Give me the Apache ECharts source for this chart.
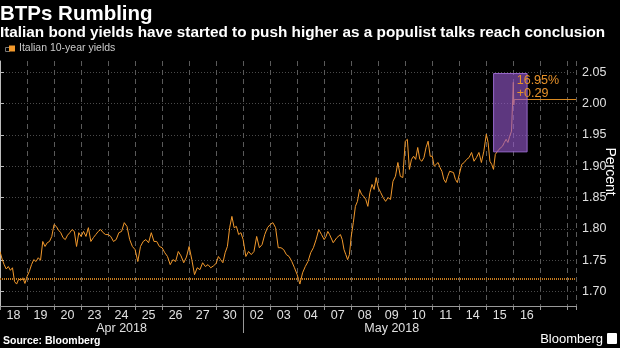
<!DOCTYPE html>
<html>
<head>
<meta charset="utf-8">
<script src="https://cdn.jsdelivr.net/npm/echarts@6/dist/echarts.min.js"></script>
<style>
  html, body { margin: 0; padding: 0; background: #000; }
  #chart { width: 620px; height: 348px; }
</style>
</head>
<body>
<div id="chart"></div>
<script>
// Trading sessions shown on the x axis (one slot per session)
const dayLabels = ['18', '19', '20', '23', '24', '25', '26', '27', '30', '02', '03', '04', '07', '08', '09', '10', '11', '14', '15', '16'];
const monthLabels = ['Apr 2018', 'May 2018'];
const monthFirstSession = [0, 9];

// Italian 10-year yield, intraday readings per session (percent)
const apr18 = [1.764, 1.752, 1.743, 1.736, 1.740, 1.734, 1.738, 1.716, 1.712, 1.720, 1.718, 1.722, 1.713];
const apr19 = [1.724, 1.732, 1.743, 1.751, 1.748, 1.754, 1.750, 1.780, 1.772, 1.778, 1.780, 1.788];
const apr20 = [1.807, 1.804, 1.798, 1.794, 1.786, 1.783, 1.790, 1.794, 1.799, 1.796, 1.772, 1.794];
const apr23 = [1.788, 1.796, 1.788, 1.802, 1.780, 1.786, 1.791, 1.796, 1.799, 1.794, 1.791];
const apr24 = [1.791, 1.788, 1.780, 1.783, 1.794, 1.796, 1.810, 1.804, 1.783, 1.772];
const apr25 = [1.767, 1.748, 1.772, 1.780, 1.783, 1.778, 1.794, 1.780, 1.780, 1.772];
const apr26 = [1.770, 1.762, 1.756, 1.743, 1.751, 1.748, 1.764, 1.757, 1.746, 1.755];
const apr27 = [1.772, 1.751, 1.727, 1.738, 1.735, 1.746, 1.740, 1.743, 1.738, 1.741];
const apr30 = [1.745, 1.756, 1.751, 1.746, 1.762, 1.772, 1.802, 1.820, 1.802, 1.804, 1.791, 1.794];
const may02 = [1.783, 1.756, 1.764, 1.759, 1.764, 1.788, 1.770, 1.775, 1.791, 1.802];
const may03 = [1.807, 1.810, 1.802, 1.770, 1.770, 1.767, 1.759, 1.756, 1.748, 1.738];
const may04 = [1.727, 1.712, 1.730, 1.740, 1.748, 1.762, 1.770, 1.783, 1.799, 1.791];
const may07 = [1.783, 1.788, 1.796, 1.791, 1.788, 1.778, 1.775, 1.786, 1.788, 1.791, 1.783, 1.767, 1.759, 1.751, 1.759];
const may08 = [1.788, 1.810, 1.836, 1.844, 1.863, 1.855, 1.852, 1.847, 1.836, 1.858, 1.871, 1.863, 1.882];
const may09 = [1.866, 1.858, 1.850, 1.844, 1.850, 1.847, 1.876, 1.884, 1.906, 1.884, 1.882];
const may10 = [1.940, 1.943, 1.895, 1.911, 1.916, 1.911, 1.930, 1.911, 1.908, 1.914, 1.930, 1.940, 1.916];
const may11 = [1.916, 1.900, 1.903, 1.906, 1.898, 1.892, 1.879, 1.874, 1.884, 1.892, 1.895, 1.890, 1.879, 1.874];
const may14 = [1.887, 1.903, 1.906, 1.911, 1.914, 1.922, 1.908, 1.914, 1.922, 1.906, 1.924];
const may15 = [1.951, 1.938, 1.908, 1.903, 1.895, 1.919, 1.922, 1.927, 1.930, 1.932, 1.938, 1.943, 1.938, 1.948, 1.956];
const may16 = [2.034, 1.998, 2.0068];
// share of the last session that has traded so far
const may16Elapsed = 0.05;

// Reference low and highlighted rally window
const lowLevel = 1.716;
const rallyWindow = { fromSession: 18.27, toSession: 19.51, low: 1.923, high: 2.048 };

// Axis ticks
const yTicks = [1.70, 1.75, 1.80, 1.85, 1.90, 1.95, 2.00, 2.05];
const yMin = 1.677, yMax = 2.068;
const xMax = 21.32;

const sessions = [apr18, apr19, apr20, apr23, apr24, apr25, apr26, apr27, apr30,
  may02, may03, may04, may07, may08, may09, may10, may11, may14, may15, may16];

const points = [];
sessions.forEach((vals, d) => {
  const share = d === sessions.length - 1 ? may16Elapsed : 1;
  vals.forEach((v, j) => points.push([d + share * j / vals.length, v]));
});
const last = points[points.length - 1];
const change = last[1] - lowLevel;
const changePct = change / lowLevel * 100;

const monthCenters = monthFirstSession.map((s, i) =>
  (s + (i + 1 < monthFirstSession.length ? monthFirstSession[i + 1] : dayLabels.length)) / 2);

const ORANGE = '#f2992c';
const AXIS_FONT = '"Liberation Sans Narrow", "Liberation Sans", sans-serif';
const TITLE_FONT = '"Liberation Sans", Arial, sans-serif';

const chart = echarts.init(document.getElementById('chart'));
chart.setOption({
  backgroundColor: '#000',
  animation: false,
  title: [
    { text: 'BTPs Rumbling', left: 0, top: 4, padding: 0,
      textStyle: { fontFamily: TITLE_FONT, fontWeight: 'bold', fontSize: 20.5, color: '#fff' } },
    { text: 'Italian bond yields have started to push higher as a populist talks reach conclusion',
      left: 0, top: 25, padding: 0,
      textStyle: { fontFamily: TITLE_FONT, fontWeight: 'bold', fontSize: 15.3, color: '#fff' } },
    { text: 'Source: Bloomberg', left: 3, top: 336, padding: 0,
      textStyle: { fontFamily: TITLE_FONT, fontWeight: 'bold', fontSize: 10.5, color: '#fff' } }
  ],
  legend: {
    left: 9, top: 43, padding: 0, itemWidth: 6, itemHeight: 6, itemGap: 4,
    icon: 'rect',
    textStyle: { fontFamily: AXIS_FONT, fontSize: 10.5, color: '#ccc', padding: [0, 0, 0, -1] },
    data: ['Italian 10-year yields']
  },
  graphic: [
    { type: 'rect', left: 3, top: 45, shape: { width: 4, height: 4 },
      style: { fill: 'none', stroke: '#777', lineWidth: 1 } },
    { type: 'text', right: 17, top: 333,
      style: { text: 'Bloomberg', fontFamily: TITLE_FONT, fontSize: 13, fill: '#fff' } },
    { type: 'rect', right: 3, top: 333, shape: { width: 10, height: 11, r: 1 },
      style: { fill: '#fff' } }
  ],
  grid: { left: 0, right: 44, top: 61, bottom: 42, containLabel: false, outerBoundsMode: 'none' },
  xAxis: [
    {
      type: 'value', min: 0, max: xMax, interval: 1,
      axisLine: { show: true, lineStyle: { color: '#999', width: 1 } },
      axisTick: { show: true, length: 4, lineStyle: { color: '#999' } },
      axisLabel: {
        customValues: dayLabels.map((_, i) => i + 0.5),
        formatter: v => dayLabels[Math.floor(v)],
        color: '#e0e0e0', fontFamily: AXIS_FONT, fontSize: 12.5, margin: 3
      },
      splitLine: { show: true, lineStyle: { color: '#5a5a5a', type: [5, 4], width: 1 } }
    },
    {
      type: 'value', min: 0, max: xMax, position: 'bottom', offset: 0,
      axisLine: { show: false },
      axisTick: { show: true, customValues: [monthFirstSession[1]], length: 27, lineStyle: { color: '#999' } },
      axisLabel: {
        customValues: monthCenters,
        formatter: v => monthLabels[monthCenters.indexOf(v)],
        color: '#e0e0e0', fontFamily: AXIS_FONT, fontSize: 12.5, margin: 16
      },
      splitLine: { show: false }
    }
  ],
  yAxis: {
    type: 'value', position: 'right', min: yMin, max: yMax,
    name: 'Percent', nameLocation: 'middle', nameRotate: -90, nameGap: 27,
    nameMoveOverlap: false,
    nameTextStyle: { color: '#fff', fontFamily: AXIS_FONT, fontSize: 14, padding: [0, 24, 0, 0] },
    axisLine: { show: true, lineStyle: { color: '#bbb' } },
    axisTick: { show: true, length: 4, customValues: yTicks, lineStyle: { color: '#bbb' } },
    axisLabel: {
      customValues: yTicks, formatter: v => v.toFixed(2),
      color: '#e0e0e0', fontFamily: AXIS_FONT, fontSize: 12.5, margin: 6
    },
    splitLine: { show: true, lineStyle: { color: '#4a4a4a', type: [1, 2], width: 1 } }
  },
  series: [
    {
      name: 'Italian 10-year yields', type: 'line', data: points,
      xAxisIndex: 0, yAxisIndex: 0,
      showSymbol: false, symbol: 'none', z: 2,
      itemStyle: { color: ORANGE },
      lineStyle: { color: ORANGE, width: 1 },
      markLine: {
        silent: true, symbol: 'none', label: { show: false },
        data: [
          { yAxis: lowLevel, lineStyle: { color: '#c47a1e', type: [1, 1], width: 2 } },
          [{ coord: last, lineStyle: { color: '#d98a22', type: 'solid', width: 1 } },
           { coord: [xMax, last[1]] }]
        ]
      }
    },
    {
      name: 'window', type: 'line', data: [], z: 5,
      markArea: {
        silent: true, z: 10,
        itemStyle: { color: 'rgba(150, 88, 205, 0.62)', borderColor: '#9868cc', borderWidth: 1 },
        data: [[
          { coord: [rallyWindow.fromSession, rallyWindow.low] },
          { coord: [rallyWindow.toSession, rallyWindow.high] }
        ]]
      },
      markPoint: {
        silent: true, z: 11, symbol: 'circle', symbolSize: 1,
        itemStyle: { color: 'rgba(0,0,0,0)' },
        label: {
          show: true, position: [3, -25], align: 'left', verticalAlign: 'top',
          color: '#e8922a', fontFamily: AXIS_FONT, fontSize: 12.5, lineHeight: 13,
          formatter: () => changePct.toFixed(2) + '%\n+' + change.toFixed(2)
        },
        data: [{ coord: last }]
      }
    }
  ]
});
</script>
</body>
</html>
